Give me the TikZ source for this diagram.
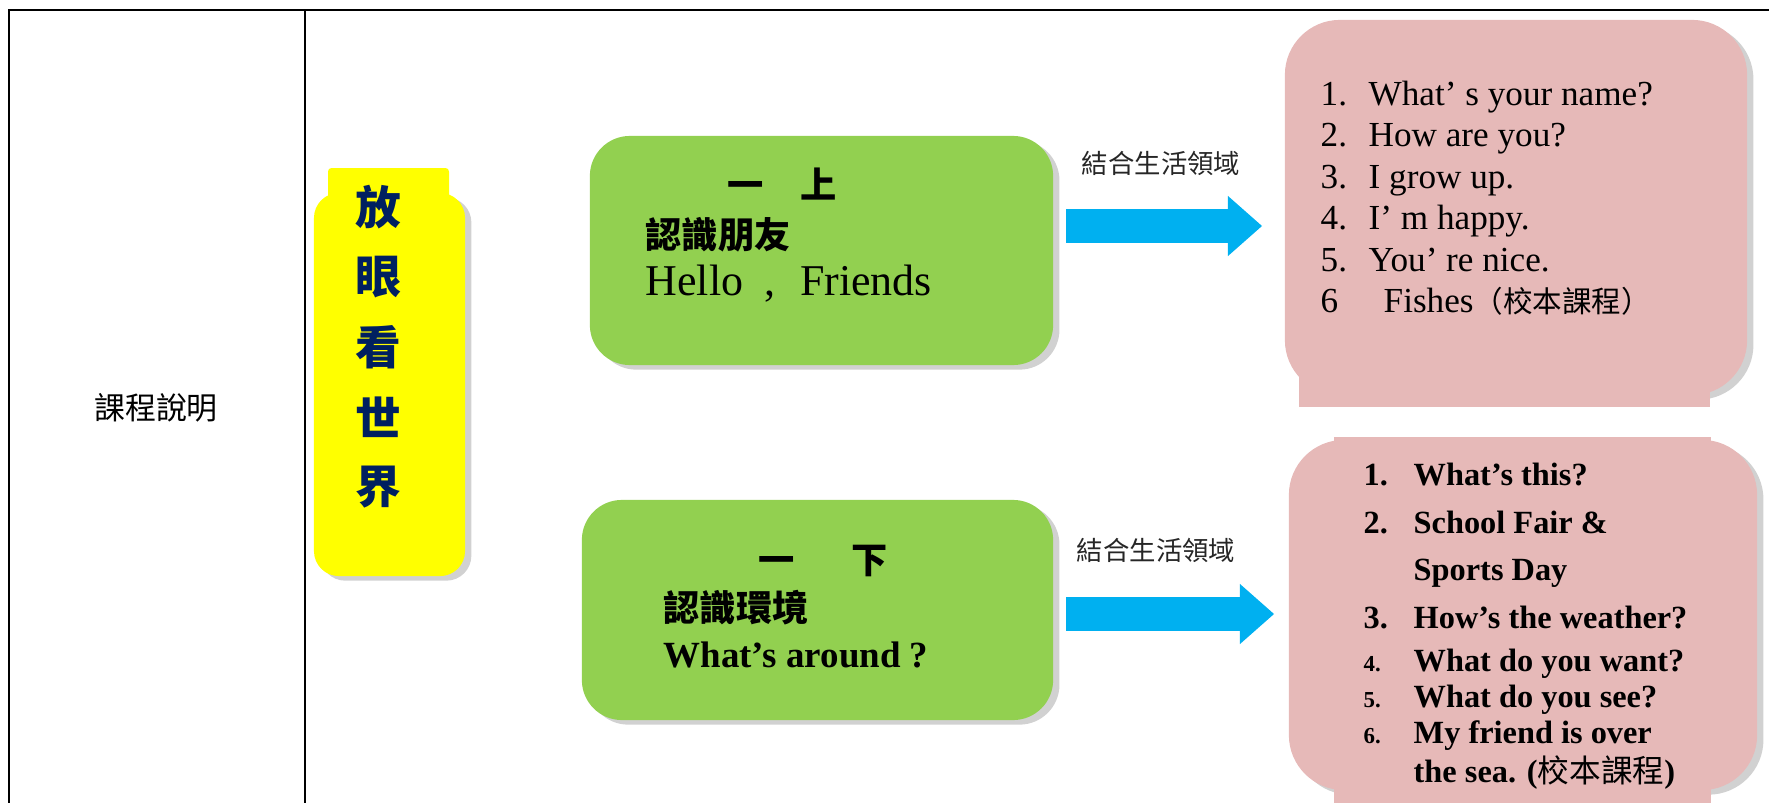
\documentclass[tikz,border=0pt]{standalone}
\usepackage{fontspec}
\setmainfont{Liberation Serif}
\newfontfamily\cjk{Noto Sans CJK TC}
\usetikzlibrary{calc,shadows,arrows.meta,positioning}

\definecolor{boxgreen}{HTML}{92D050}
\definecolor{labelyellow}{HTML}{FFFF00}
\definecolor{navytext}{HTML}{002060}
\definecolor{arrowblue}{HTML}{00B0F0}
\definecolor{boxpink}{HTML}{E6B9B8}

\begin{document}
\begin{tikzpicture}[x=0.01cm,y=-0.01cm]

\tikzset{softshadow/.style={drop shadow={shadow xshift=1.8pt,shadow yshift=-1.3pt,opacity=0.3,fill=black!60}},
greenbox/.style={shape=rectangle,fill=boxgreen,rounded corners=0.4cm,softshadow,inner sep=0pt},
pinkbox/.style={shape=rectangle,fill=boxpink,rounded corners=0.55cm,softshadow,inner sep=0pt},
yellowbox/.style={shape=rectangle,fill=labelyellow,rounded corners=0.25cm,softshadow,inner sep=0pt,minimum width=1.51cm,minimum height=3.83cm},
themechar/.style={font={\cjk\bfseries\fontsize{13}{15}\selectfont},text=navytext,inner sep=0pt},
cjkhead/.style={font={\cjk\bfseries\fontsize{10.3}{12}\selectfont},inner sep=0pt,anchor=base west},
mingtext/.style={font={\fontsize{10}{12}\selectfont},inner sep=0pt,anchor=base west},
rbtext/.style={font={\bfseries\fontsize{9.2}{11}\selectfont},inner sep=0pt,anchor=base west},
linklabel/.style={font={\cjk\fontsize{7.5}{9}\selectfont},text=black!85,inner sep=0pt},
bluearrow/.style={draw=arrowblue,line width=0.34cm,-{Triangle[width=0.6cm,length=0.34cm,line width=0pt]}}}

\useasboundingbox (0,0) rectangle (1769,803);

% Table frame
\draw[line width=0.6pt] (9,803) -- (9,10) -- (1769,10);
\draw[line width=0.6pt] (305,10) -- (305,803);

% Left cell
\node[font={\cjk\fontsize{8.8}{10}\selectfont},inner sep=0pt] (course) at (156,408) {課程說明};

% Theme label
\node[yellowbox] (theme) at (389.5,384.5) {};
\fill[labelyellow,rounded corners=1pt] (328,168) rectangle (449,215);
\foreach \ch [count=\i] in {放,眼,看,世,界} \node[themechar] (t\i) at (378,137+70*\i) {\ch};

% Term boxes
\node[greenbox,minimum width=4.63cm,minimum height=2.29cm] (g1) at (821.5,250.5) {};
\node[greenbox,minimum width=4.71cm,minimum height=2.2cm] (g2) at (817.5,610) {};

\node[cjkhead] (g1a) at (727,198) {一　上};
\node[cjkhead] (g1b) at (645,248) {認識朋友};
\node[mingtext,font={\fontsize{12.5}{14}\selectfont}] (g1c) at (645,295) {Hello\hspace{6pt},\hspace{7pt}Friends};

\node[cjkhead] (g2a) at (758,573) {一\hspace{16pt}下};
\node[cjkhead] (g2b) at (663,621) {認識環境};
\node[rbtext,font={\bfseries\fontsize{10.5}{12}\selectfont}] (g2c) at (663,667) {What’s around ?};

% Links
\node[linklabel] (l1) at (1161,163) {結合生活領域};
\node[linklabel] (l2) at (1156,550) {結合生活領域};
\coordinate (a1s) at (1066,226); \coordinate (a1e) at (1262,226);
\coordinate (a2s) at (1066,614); \coordinate (a2e) at (1274,614);
\draw[bluearrow] (a1s) -- (a1e);
\draw[bluearrow] (a2s) -- (a2e);

% Topic boxes
\node[pinkbox,minimum width=4.62cm,minimum height=3.75cm] (p1) at (1516,207.5) {};
\fill[boxpink] (1299,330) rectangle (1710,407);
\node[pinkbox,minimum width=4.68cm,minimum height=3.5cm] (p2) at (1523,615) {};
\fill[boxpink] (1334,437) rectangle (1711,803);

% First term topics
\foreach \n/\t in {1/What’ s your name?, 2/How are you?, 3/I grow up., 4/I’ m happy., 5/You’ re nice.}
{
  \node[mingtext] (p\n n) at (1320,63.5+41.5*\n) {\n.};
  \node[mingtext] (p\n) at (1368,63.5+41.5*\n) {\t};
}
\node[mingtext] (p6n) at (1320,312.5) {6};
\node[mingtext] (p6) at (1383,312.5) {Fishes{\cjk\fontsize{8.4}{10}\selectfont（校本課程）}};

% Second term topics
\node[rbtext] (q1n) at (1363,485) {1.};
\node[rbtext] (q2n) at (1363,533) {2.};
\node[rbtext] (q3n) at (1363,628) {3.};
\foreach \y/\n in {671/4, 707/5, 743/6} \node[rbtext,font={\bfseries\fontsize{6.5}{8}\selectfont}] (q\n n) at (1363,\y) {\n.};
\node[rbtext] (q1) at (1413,485) {What’s this?};
\node[rbtext] (q2) at (1413,533) {School Fair \&};
\node[rbtext] (q2b) at (1413,580) {Sports Day};
\node[rbtext] (q3) at (1413,628) {How’s the weather?};
\node[rbtext] (q4) at (1413,671) {What do you want?};
\node[rbtext] (q5) at (1413,707) {What do you see?};
\node[rbtext] (q6) at (1413,743) {My friend is over};
\node[rbtext] (q6b) at (1413,782) {the sea. ({\cjk\mdseries\fontsize{9}{11}\selectfont 校本課程})};

\end{tikzpicture}
\end{document}
